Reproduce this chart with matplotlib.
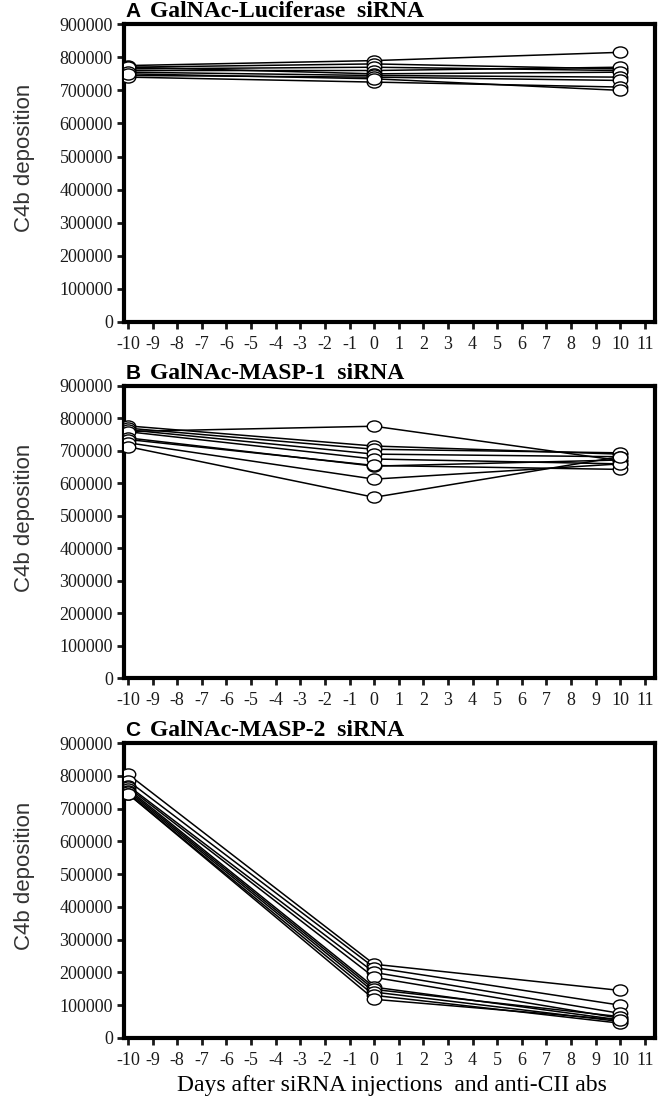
import matplotlib.pyplot as plt
from matplotlib.markers import MarkerStyle
from matplotlib.transforms import Affine2D, ScaledTranslation

# sampling days
days = [-10, 0, 10]

# C4b deposition per mouse (day -10, day 0, day 10)
luciferase = [
    [775000, 790000, 815000],
    [770000, 780000, 765000],
    [765000, 770000, 760000],
    [760000, 760000, 770000],
    [770000, 750000, 755000],
    [755000, 745000, 740000],
    [745000, 740000, 730000],
    [740000, 725000, 710000],
    [750000, 735000, 700000],
]
masp1 = [
    [760000, 776000, 670000],
    [777000, 715000, 690000],
    [770000, 705000, 694000],
    [765000, 690000, 682000],
    [759000, 675000, 660000],
    [740000, 653000, 672000],
    [735000, 655000, 643000],
    [725000, 613000, 660000],
    [713000, 557000, 682000],
]
masp2 = [
    [805000, 225000, 145000],
    [785000, 215000, 100000],
    [770000, 200000, 75000],
    [765000, 185000, 60000],
    [760000, 155000, 55000],
    [755000, 148000, 65000],
    [750000, 140000, 50000],
    [745000, 130000, 45000],
    [745000, 118000, 55000],
]

panel_letters = ["A", "B", "C"]
panel_titles = ["GalNAc-Luciferase  siRNA", "GalNAc-MASP-1  siRNA", "GalNAc-MASP-2  siRNA"]
y_ticks = list(range(0, 900001, 100000))
x_ticks = list(range(-10, 12))

fig = plt.figure(figsize=(6.6, 11), dpi=100)

# axes boxes in figure fractions (left, bottom, width, height)
boxes = [
    [0.188, 0.7073, 0.804, 0.2707],
    [0.188, 0.3836, 0.804, 0.2655],
    [0.188, 0.0564, 0.804, 0.2681],
]

oval = MarkerStyle("o", transform=Affine2D().scale(1.3, 1.0))
# y tick labels sit a little below their ticks in the original
shift_down = ScaledTranslation(0, -6 / 100, fig.dpi_scale_trans)

for i, data in enumerate([luciferase, masp1, masp2]):
    ax = fig.add_axes(boxes[i])
    for mouse in data:
        ax.plot(days, mouse, color="black", lw=1.1, marker=oval, ms=8,
                mfc="white", mec="black", mew=1.0, zorder=3)
    ax.set_xlim(-10.16, 11.4)
    ax.set_ylim(0, 900000)
    ax.set_xticks(x_ticks)
    ax.set_xticklabels([str(t) for t in x_ticks], fontfamily="Liberation Serif", fontsize=13)
    ax.set_yticks(y_ticks)
    ax.set_yticklabels([str(t) for t in y_ticks], fontfamily="Liberation Serif", fontsize=13)
    for lab in ax.get_yticklabels():
        lab.set_transform(lab.get_transform() + shift_down)
    for side in ax.spines.values():
        side.set_linewidth(3)
    ax.tick_params(direction="out", length=5, width=2, pad=3, colors="#1a1a1a")
    ax.tick_params(axis="x", pad=5)
    ax.set_ylabel("C4b deposition", fontfamily="Liberation Sans", fontsize=16,
                  color="#333333")
    ax.yaxis.set_label_coords(-0.168, 0.55)

    # panel heading: bold sans letter, bold serif name
    top = boxes[i][1] + boxes[i][3]
    fig.text(0.19, top + 0.003, panel_letters[i], fontfamily="Liberation Sans",
             fontweight="bold", fontsize=15, va="bottom")
    fig.text(0.228, top + 0.002, panel_titles[i], fontfamily="Liberation Serif",
             fontweight="bold", fontsize=17, va="bottom")

fig.text(0.594, 0.0136, "Days after siRNA injections  and anti-CII abs",
         fontfamily="Liberation Serif", fontsize=17, ha="center", va="center")

fig.savefig("out.png", dpi=100)
